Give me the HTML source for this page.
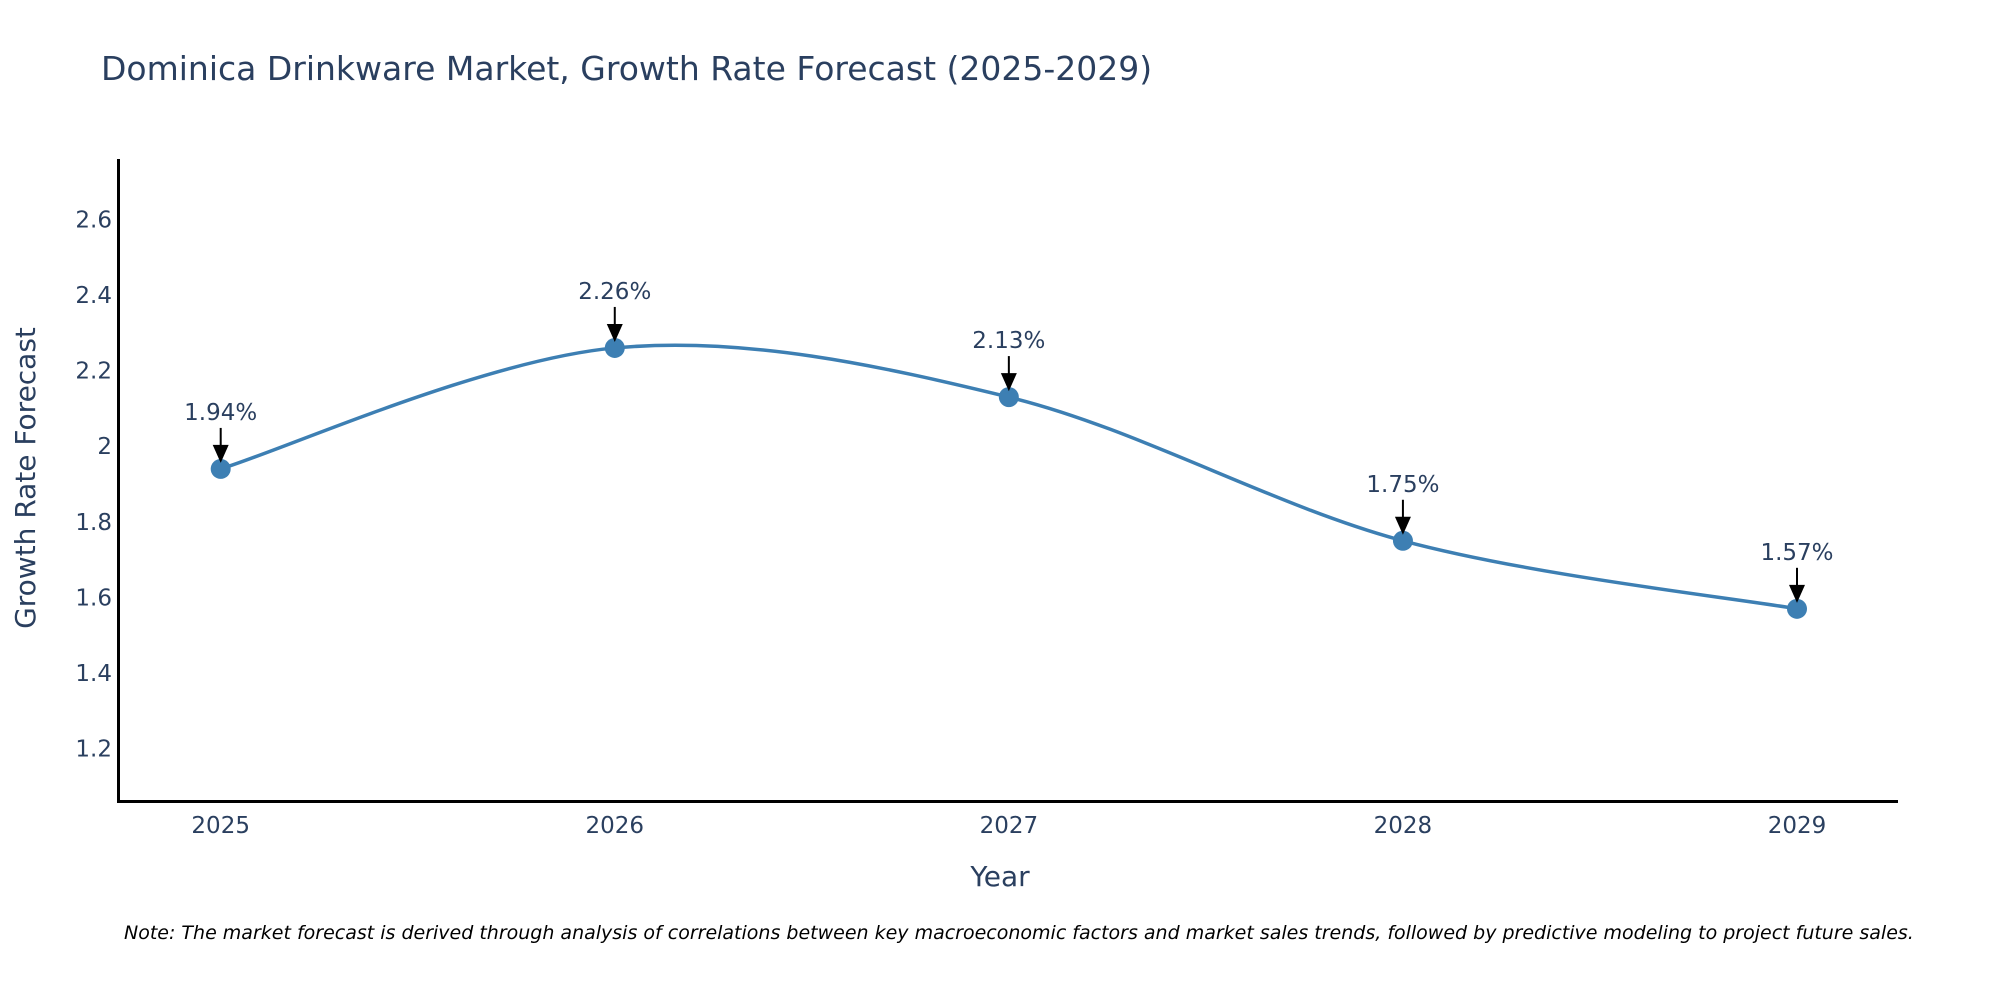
<!DOCTYPE html>
<html><head><meta charset="utf-8"><style>
body{margin:0;background:#fff;}
svg{display:block;font-family:"DejaVu Sans","Liberation Sans",sans-serif;}
</style></head><body>
<svg id="chart" width="2000" height="1000">
<text x="101" y="80" font-size="33" fill="#2a3f5f">Dominica Drinkware Market, Growth Rate Forecast (2025-2029)</text>
<g id="yticks"></g><g id="xticks"></g>
<line x1="118.5" y1="159" x2="118.5" y2="802" stroke="#000" stroke-width="3"/>
<line x1="117" y1="801.5" x2="1898" y2="801.5" stroke="#000" stroke-width="3"/>
<path id="line" fill="none" stroke="#3d7fb3" stroke-width="3.5"/>
<g id="marks"></g>
<text x="1000" y="886" font-size="28" fill="#2a3f5f" text-anchor="middle">Year</text>
<text transform="translate(35,478) rotate(-90)" font-size="28" fill="#2a3f5f" text-anchor="middle">Growth Rate Forecast</text>
<text x="124" y="939" font-size="19" font-style="italic" fill="#000">Note: The market forecast is derived through analysis of correlations between key macroeconomic factors and market sales trends, followed by predictive modeling to project future sales.</text>
</svg>
<script>
const years=[2025,2026,2027,2028,2029];
const values=[1.94,2.26,2.13,1.75,1.57];
const yTicks=[1.2,1.4,1.6,1.8,2,2.2,2.4,2.6];
const ns="http://www.w3.org/2000/svg";
function xS(i){return 220.7+i*(1797-220.7)/4;}
function yS(v){return 748.7-(v-1.2)/1.4*(748.7-219.4);}
function mk(t,a){const e=document.createElementNS(ns,t);for(const k in a)e.setAttribute(k,a[k]);return e;}
const yt=document.getElementById('yticks');
yTicks.forEach(v=>{const t=mk('text',{x:112,y:yS(v)+8,'font-size':23,fill:'#2a3f5f','text-anchor':'end'});


t.textContent=String(v);yt.appendChild(t);});
const xt=document.getElementById('xticks');
years.forEach((y,i)=>{const t=mk('text',{x:xS(i),y:833,'font-size':23,fill:'#2a3f5f','text-anchor':'middle'});


t.textContent=String(y);xt.appendChild(t);});
const P=values.map((v,i)=>[xS(i),yS(v)]);
let d='M'+P[0][0]+','+P[0][1];const s=0.33;
for(let i=0;i<P.length-1;i++){const p0=P[i-1]||P[i],p1=P[i],p2=P[i+1],p3=P[i+2]||P[i+1];
d+=' C'+(p1[0]+(p2[0]-p0[0])*s/2)+','+(p1[1]+(p2[1]-p0[1])*s/2)+' '+(p2[0]-(p3[0]-p1[0])*s/2)+','+(p2[1]-(p3[1]-p1[1])*s/2)+' '+p2[0]+','+p2[1];}
document.getElementById('line').setAttribute('d',d);
const g=document.getElementById('marks');
P.forEach((p,i)=>{
const c=mk('circle',{cx:p[0],cy:p[1],r:10,fill:'#3d7fb3'});


g.appendChild(c);
const l=mk('line',{x1:p[0],y1:p[1]-41,x2:p[0],y2:p[1]-20,stroke:'#000','stroke-width':2});


g.appendChild(l);
const h=mk('polygon',{points:(p[0]-8)+','+(p[1]-24)+' '+(p[0]+8)+','+(p[1]-24)+' '+p[0]+','+(p[1]-6),fill:'#000'});


g.appendChild(h);
const t=mk('text',{x:p[0],y:p[1]-49,'font-size':23,fill:'#2a3f5f','text-anchor':'middle'});


t.textContent=values[i].toFixed(2)+'%';g.appendChild(t);});
</script>
</body></html>
